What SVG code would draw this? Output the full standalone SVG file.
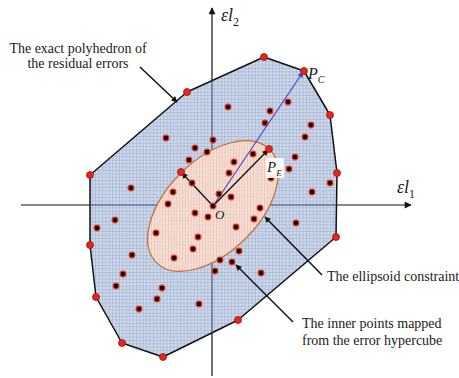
<svg xmlns="http://www.w3.org/2000/svg" width="459" height="378" viewBox="0 0 459 378">
<defs>
<style>
.lbl{font-family:"Liberation Serif","Times New Roman",serif;font-size:14px;fill:#1a1a1a}
.math{font-family:"Liberation Serif","Times New Roman",serif;font-style:italic;fill:#1a1a1a}
.sub{font-family:"Liberation Serif","Times New Roman",serif;fill:#1a1a1a}
.axis{stroke:#111;stroke-width:1.2;fill:none}
.lead{stroke:#111;stroke-width:1.5;fill:none;marker-end:url(#ah)}
.hull{fill:#e8251a;stroke:#9a1410;stroke-width:0.8}
.pt{fill:#000;stroke:#e8301f;stroke-width:1.3}
</style>
<pattern id="grid" patternUnits="userSpaceOnUse" width="3.4" height="3.4">
<rect width="3.4" height="3.4" fill="#cbd7eb"/>
<path d="M0 0.25H3.4M0.25 0V3.4" stroke="#95a4bf" stroke-width="0.5"/>
</pattern>
<pattern id="hatch" patternUnits="userSpaceOnUse" width="4" height="4">
<rect width="4" height="4" fill="#f4e0d8"/>
<path d="M-1 1L1 -1M0 4L4 0M3 5L5 3" stroke="#eab09a" stroke-width="0.8"/>
</pattern>
<clipPath id="polyclip">
<polygon points="264,57 304,71 330,115 337,173 336,237 238,320 163,357 122,343 96,297 90,245 90,175 187,92"/>
</clipPath>
<marker id="ah" viewBox="0 0 10 10" refX="9" refY="5" markerWidth="7" markerHeight="6" markerUnits="userSpaceOnUse" orient="auto">
<path d="M0 0L10 5L0 10z" fill="#111"/>
</marker>
<marker id="ahb" viewBox="0 0 10 10" refX="9" refY="5" markerWidth="8" markerHeight="6" markerUnits="userSpaceOnUse" orient="auto">
<path d="M0 0L10 5L0 10z" fill="#4a4ac8"/>
</marker>
<marker id="axh" viewBox="0 0 10 10" refX="9" refY="5" markerWidth="9" markerHeight="7" markerUnits="userSpaceOnUse" orient="auto">
<path d="M0 0L10 5L0 10z" fill="#111"/>
</marker>
</defs>
<rect width="459" height="378" fill="#fff"/>

<g id="axes">
<line class="axis" x1="212" y1="376" x2="212" y2="8" marker-end="url(#axh)"/>
<line class="axis" x1="21" y1="205" x2="411" y2="205" marker-end="url(#axh)"/>
</g>

<g id="polyhedron">
<polygon points="264,57 304,71 330,115 337,173 336,237 238,320 163,357 122,343 96,297 90,245 90,175 187,92" fill="url(#grid)" stroke="#111" stroke-width="1.5" stroke-linejoin="round"/>
<g clip-path="url(#polyclip)" stroke="#3e4f74" stroke-width="1.1">
<line x1="212" y1="50" x2="212" y2="376"/>
<line x1="80" y1="205" x2="345" y2="205"/>
</g>
</g>

<g id="ellipsoid">
<ellipse cx="213" cy="206" rx="80" ry="46" transform="rotate(-45 213 206)" fill="url(#hatch)" stroke="#c0703c" stroke-width="1.2"/>
</g>

<g id="connectors">
<line x1="213" y1="206" x2="303" y2="72" stroke="#4a4ac8" stroke-width="1.2" marker-end="url(#ahb)"/>
<line x1="213" y1="206" x2="268" y2="150" stroke="#111" stroke-width="1.3" marker-end="url(#ah)"/>
<line x1="213" y1="206" x2="182" y2="173" stroke="#111" stroke-width="1.3" marker-end="url(#ah)"/>
<line class="lead" x1="140" y1="67" x2="177" y2="102"/>
<line class="lead" x1="322" y1="275" x2="265" y2="217"/>
<line class="lead" x1="293" y1="322" x2="236" y2="265"/>
</g>

<g id="inner-points">
<circle class="pt" cx="166" cy="138" r="2.8"/>
<circle class="pt" cx="228" cy="107" r="2.8"/>
<circle class="pt" cx="213" cy="140" r="2.8"/>
<circle class="pt" cx="195" cy="148" r="2.8"/>
<circle class="pt" cx="207" cy="152" r="2.8"/>
<circle class="pt" cx="189" cy="160" r="2.8"/>
<circle class="pt" cx="253" cy="154" r="2.8"/>
<circle class="pt" cx="234" cy="162" r="2.8"/>
<circle class="pt" cx="229" cy="173" r="2.8"/>
<circle class="pt" cx="192" cy="183" r="2.8"/>
<circle class="pt" cx="219" cy="194" r="2.8"/>
<circle class="pt" cx="231" cy="197" r="2.8"/>
<circle class="pt" cx="173" cy="192" r="2.8"/>
<circle class="pt" cx="168" cy="204" r="2.8"/>
<circle class="pt" cx="213" cy="206" r="2.8"/>
<circle class="pt" cx="288" cy="102" r="2.8"/>
<circle class="pt" cx="270" cy="111" r="2.8"/>
<circle class="pt" cx="265" cy="123" r="2.8"/>
<circle class="pt" cx="311" cy="125" r="2.8"/>
<circle class="pt" cx="305" cy="137" r="2.8"/>
<circle class="pt" cx="295" cy="157" r="2.8"/>
<circle class="pt" cx="289" cy="169" r="2.8"/>
<circle class="pt" cx="271" cy="178" r="2.8"/>
<circle class="pt" cx="330" cy="183" r="2.8"/>
<circle class="pt" cx="312" cy="192" r="2.8"/>
<circle class="pt" cx="260" cy="208" r="2.8"/>
<circle class="pt" cx="254" cy="219" r="2.8"/>
<circle class="pt" cx="236" cy="227" r="2.8"/>
<circle class="pt" cx="296" cy="223" r="2.8"/>
<circle class="pt" cx="195" cy="213" r="2.8"/>
<circle class="pt" cx="208" cy="217" r="2.8"/>
<circle class="pt" cx="156" cy="233" r="2.8"/>
<circle class="pt" cx="198" cy="237" r="2.8"/>
<circle class="pt" cx="193" cy="249" r="2.8"/>
<circle class="pt" cx="174" cy="258" r="2.8"/>
<circle class="pt" cx="239" cy="251" r="2.8"/>
<circle class="pt" cx="232" cy="262" r="2.8"/>
<circle class="pt" cx="220" cy="260" r="2.8"/>
<circle class="pt" cx="215" cy="271" r="2.8"/>
<circle class="pt" cx="261" cy="273" r="2.8"/>
<circle class="pt" cx="115" cy="220" r="2.8"/>
<circle class="pt" cx="97" cy="228" r="2.8"/>
<circle class="pt" cx="132" cy="255" r="2.8"/>
<circle class="pt" cx="123" cy="274" r="2.8"/>
<circle class="pt" cx="116" cy="286" r="2.8"/>
<circle class="pt" cx="162" cy="288" r="2.8"/>
<circle class="pt" cx="157" cy="299" r="2.8"/>
<circle class="pt" cx="139" cy="309" r="2.8"/>
<circle class="pt" cx="199" cy="304" r="2.8"/>
<circle class="pt" cx="131" cy="188" r="2.8"/>
</g>

<g id="hull-vertices">
<circle class="hull" cx="264" cy="57" r="3.5"/>
<circle class="hull" cx="304" cy="71" r="3.5"/>
<circle class="hull" cx="330" cy="115" r="3.5"/>
<circle class="hull" cx="337" cy="173" r="3.5"/>
<circle class="hull" cx="336" cy="237" r="3.5"/>
<circle class="hull" cx="238" cy="320" r="3.5"/>
<circle class="hull" cx="163" cy="357" r="3.5"/>
<circle class="hull" cx="122" cy="343" r="3.5"/>
<circle class="hull" cx="96" cy="297" r="3.5"/>
<circle class="hull" cx="90" cy="245" r="3.5"/>
<circle class="hull" cx="90" cy="175" r="3.5"/>
<circle class="hull" cx="187" cy="92" r="3.5"/>
<circle class="hull" cx="269" cy="149" r="3.5"/>
<circle class="hull" cx="181" cy="172" r="3.5"/>
</g>

<g id="labels">
<text class="lbl" x="78" y="53" text-anchor="middle">The exact polyhedron of</text>
<text class="lbl" x="78" y="68" text-anchor="middle">the residual errors</text>
<text class="lbl" x="327" y="281">The ellipsoid constraint</text>
<text class="lbl" x="302" y="328">The inner points mapped</text>
<text class="lbl" x="302" y="345">from the error hypercube</text>
<text x="221" y="21"><tspan class="math" font-size="18">εl</tspan><tspan class="sub" font-size="12" dy="5">2</tspan></text>
<text x="397" y="193"><tspan class="math" font-size="18">εl</tspan><tspan class="sub" font-size="12" dy="5">1</tspan></text>
<text x="308" y="79"><tspan class="math" font-size="16">P</tspan><tspan class="math" font-size="10" dy="4">C</tspan></text>
<rect x="266" y="158" width="18" height="20" fill="#fff" fill-opacity="0.9"/>
<text x="267" y="172"><tspan class="math" font-size="15">P</tspan><tspan class="math" font-size="9" dy="4">E</tspan></text>
<text class="math" x="215" y="219" font-size="13">O</text>
</g>
</svg>
